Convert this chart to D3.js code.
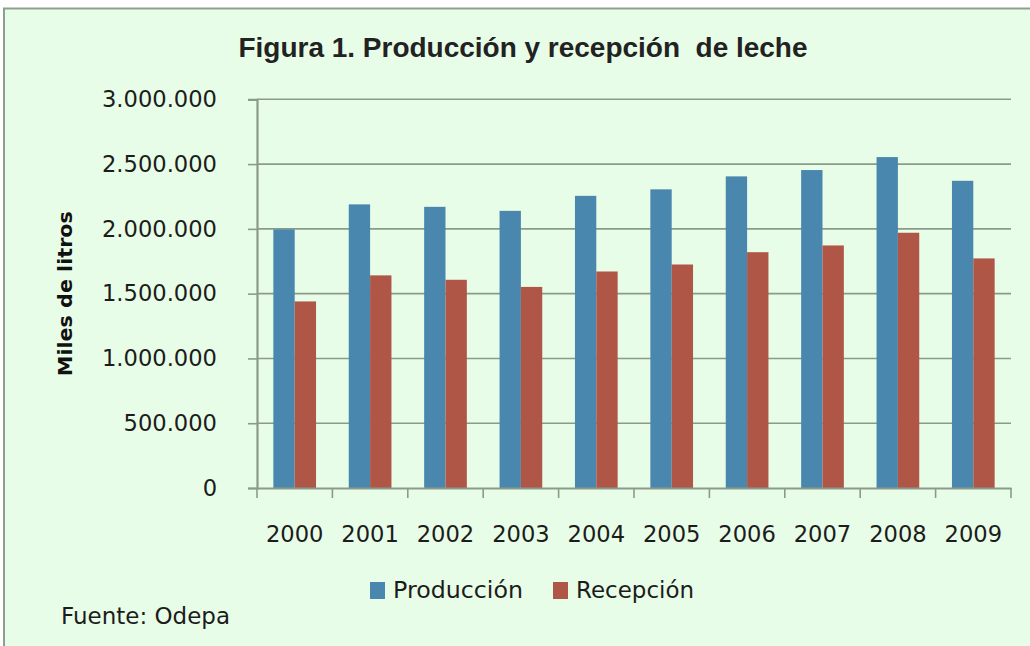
<!DOCTYPE html>
<html><head><meta charset="utf-8">
<script src="https://cdn.jsdelivr.net/npm/d3@7"></script>
<style>html,body{margin:0;padding:0;background:#fff;}svg{display:block;}</style>
</head><body>
<script>
const years = ["2000","2001","2002","2003","2004","2005","2006","2007","2008","2009"];
const produccion = [1996000,2189000,2170000,2139000,2255000,2305000,2405000,2454000,2554000,2371000];
const recepcion = [1440000,1641000,1607000,1552000,1671000,1725000,1820000,1872000,1970000,1772000];
const seriesNames = ["Producción","Recepción"];
const yTicks = [0,500000,1000000,1500000,2000000,2500000,3000000];
const yTickLabels = ["0","500.000","1.000.000","1.500.000","2.000.000","2.500.000","3.000.000"];
const titleText = "Figura 1. Producción y recepción  de leche";
const yAxisTitle = "Miles de litros";
const sourceText = "Fuente: Odepa";

const W = 1030, H = 646;
const colors = ["#4a87ae","#b05646"];
const axisColor = "#8b9b8b";
const bg = "#e8fde7";
const svg = d3.select("body").append("svg").attr("width",W).attr("height",H);

svg.append("rect").attr("x",4).attr("y",8.5).attr("width",1040).attr("height",660)
  .attr("fill",bg).attr("stroke","#8f9f8f").attr("stroke-width",2);

const plot = {left:257, right:1011, top:99.3, bottom:488};
const x = d3.scaleBand().domain(years).range([plot.left,plot.right]).paddingInner(0).paddingOuter(0);
const x1 = d3.scaleBand().domain(seriesNames).range([0,x.bandwidth()]).paddingInner(0).paddingOuter(0.766);
const y = d3.scaleLinear().domain([0,3000000]).range([plot.bottom,plot.top]);

// gridlines
svg.append("g").selectAll("line").data(yTicks.slice(1)).join("line")
  .attr("x1",plot.left).attr("x2",plot.right).attr("y1",d=>y(d)).attr("y2",d=>y(d))
  .attr("stroke",axisColor).attr("stroke-width",1.6);

// bars
const data = years.map((yr,i)=>({year:yr, vals:[produccion[i],recepcion[i]]}));
const g = svg.append("g").selectAll("g").data(data).join("g")
  .attr("transform",d=>`translate(${x(d.year)},0)`);
g.selectAll("rect").data(d=>d.vals.map((v,j)=>({name:seriesNames[j],v,j}))).join("rect")
  .attr("x",d=>x1(d.name)).attr("width",x1.bandwidth())
  .attr("y",d=>y(d.v)).attr("height",d=>y(0)-y(d.v))
  .attr("fill",d=>colors[d.j]);

// y axis
const yAxis = d3.axisLeft(y).tickValues(yTicks).tickSize(9).tickPadding(31)
  .tickFormat((d,i)=>yTickLabels[i]);
const ya = svg.append("g").attr("transform",`translate(${plot.left},0)`).call(yAxis);
ya.select(".domain").attr("stroke",axisColor).attr("stroke-width",2.2);
ya.selectAll(".tick line").attr("stroke",axisColor).attr("stroke-width",1.6);
ya.selectAll(".tick text").attr("font-family","'DejaVu Sans', Verdana, sans-serif")
  .attr("font-size",22.6).attr("fill","#1c1c1c");

// x axis
const xAxis = d3.axisBottom(x).tickSize(0).tickPadding(38);
const xa = svg.append("g").attr("transform",`translate(0,${plot.bottom})`).call(xAxis);
xa.select(".domain").attr("stroke",axisColor).attr("stroke-width",2.2);
xa.selectAll(".tick text").attr("font-family","'DejaVu Sans', Verdana, sans-serif")
  .attr("font-size",22.6).attr("fill","#1c1c1c");
// category boundary ticks
const bounds = years.map(d=>x(d)).concat([plot.right]);
svg.append("g").selectAll("line").data(bounds).join("line")
  .attr("x1",d=>d).attr("x2",d=>d).attr("y1",plot.bottom).attr("y2",plot.bottom+10)
  .attr("stroke",axisColor).attr("stroke-width",1.6);

// title
svg.append("text").attr("x",238.5).attr("y",57.3)
  .attr("font-family","'Liberation Sans', Arial, sans-serif").attr("font-weight","bold")
  .attr("font-size",28.5).attr("fill","#222").style("white-space","pre")
  .attr("textLength",569).attr("lengthAdjust","spacingAndGlyphs")
  .text(titleText);

// y axis title
svg.append("text").attr("transform",`translate(72,${(plot.top+plot.bottom)/2}) rotate(-90)`)
  .attr("text-anchor","middle")
  .attr("font-family","'DejaVu Sans', Verdana, sans-serif").attr("font-weight","bold")
  .attr("font-size",20).attr("fill","#111")
  .attr("textLength",165).attr("lengthAdjust","spacingAndGlyphs")
  .text(yAxisTitle);

// legend
const legX = [370, 553];
const legLen = [130, 118];
const lg = svg.append("g").selectAll("g").data(seriesNames).join("g")
  .attr("transform",(d,i)=>`translate(${legX[i]},0)`);
lg.append("rect").attr("x",0).attr("y",582).attr("width",15).attr("height",17)
  .attr("fill",(d,i)=>colors[i]);
lg.append("text").attr("x",23).attr("y",598)
  .attr("font-family","'DejaVu Sans', Verdana, sans-serif").attr("font-size",22.5)
  .attr("textLength",(d,i)=>legLen[i]).attr("lengthAdjust","spacingAndGlyphs")
  .attr("fill","#1c1c1c").text(d=>d);

// source
svg.append("text").attr("x",61).attr("y",624)
  .attr("font-family","'DejaVu Sans', Verdana, sans-serif").attr("font-size",22.5)
  .attr("textLength",169).attr("lengthAdjust","spacingAndGlyphs")
  .attr("fill","#1c1c1c").text(sourceText);
</script>
</body></html>
